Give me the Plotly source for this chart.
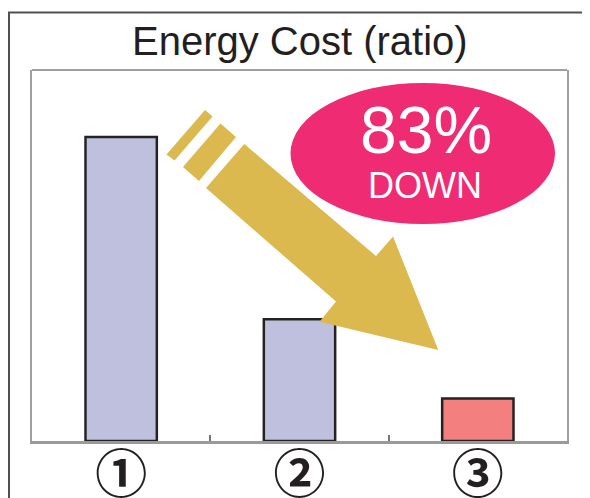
import plotly.graph_objects as go

# ---- data ----
categories = ["①", "②", "③"]
values = [100, 40, 14]
bar_colors = ["#bfc0de", "#bfc0de", "#f47f7f"]
title_text = "Energy Cost (ratio)"
badge_big = "83%"
badge_small = "DOWN"

W, H = 590, 498
# target plot area in the final picture (pixels)
TL, TR, TT, TB = 32, 567, 70, 441
# page offset (default body margin of the page)
OX, OY = 8, 8
L = TL - OX
R = W - (TR - OX)
T = TT - OY
B = H - (TB - OY)
PW, PH = TR - TL, TB - TT


def px(x, y):
    """picture pixel position -> paper coordinates (decoration only)"""
    return (x - TL) / PW, (TB - y) / PH


def path(points, close=True):
    pts = [px(x, y) for x, y in points]
    return "M " + " L ".join(f"{a:.4f},{b:.4f}" for a, b in pts) + (" Z" if close else "")


fig = go.Figure()
fig.add_trace(go.Bar(
    x=categories, y=values, width=0.4,
    marker=dict(color=bar_colors, line=dict(color="#262223", width=2.5)),
    hoverinfo="skip",
))

yellow = "#dcb94f"
shapes = []
shapes.append(dict(type="path", xref="paper", yref="paper", layer="above",
                   path=path([(205, 110), (212.5, 116.5), (174.5, 160.5), (166.5, 154.5)]),
                   fillcolor=yellow, line=dict(width=0)))
shapes.append(dict(type="path", xref="paper", yref="paper", layer="above",
                   path=path([(220.5, 123.5), (236, 137), (199, 181), (183, 167)]),
                   fillcolor=yellow, line=dict(width=0)))
shapes.append(dict(type="path", xref="paper", yref="paper", layer="above",
                   path=path([(244.3, 144), (376, 256), (393, 236.5), (438.3, 350),
                              (319.5, 321.7), (336, 301.5), (206, 188)]),
                   fillcolor=yellow, line=dict(width=0)))
x0, y0 = px(290.5, 224)
x1, y1 = px(555, 83)
shapes.append(dict(type="circle", xref="paper", yref="paper", layer="above",
                   x0=x0, y0=y0, x1=x1, y1=y1, fillcolor="#ee2b73", line=dict(width=0)))
a0, b0 = px(32, 70)
a1, b1 = px(567, 70)
shapes.append(dict(type="line", xref="paper", yref="paper", x0=a0, y0=b0, x1=a1, y1=b1,
                   line=dict(color="#a0a0a0", width=2)))
shapes.append(dict(type="path", xref="paper", yref="paper", layer="above",
                   path=path([(9, 520), (9, 12.5), (620, 12.5)], close=False),
                   line=dict(color="#505050", width=2)))

ax, ay = px(426, 130)
bx, by = px(425, 185)
tx, ty = px(300, 41)
common = dict(xref="paper", yref="paper", showarrow=False, xanchor="center", yanchor="middle")
annotations = [
    dict(text=badge_big, x=ax, y=ay,
         font=dict(family="Liberation Sans, Arial, sans-serif", size=66, color="white"), **common),
    dict(text=badge_small, x=bx, y=by,
         font=dict(family="Liberation Sans, Arial, sans-serif", size=36, color="white"), **common),
    dict(text=title_text, x=tx, y=ty,
         font=dict(family="Liberation Sans, Arial, sans-serif", size=40, color="#231f20"), **common),
]

fig.update_layout(
    width=W, height=H,
    margin=dict(l=L, r=R, t=T, b=B, pad=0, autoexpand=False),
    paper_bgcolor="white", plot_bgcolor="white",
    showlegend=False,
    shapes=shapes, annotations=annotations,
    xaxis=dict(range=[-0.5, 2.5], type="category", showline=True, linecolor="#9a9a9a",
               linewidth=3, ticks="inside", tickson="boundaries", ticklen=6,
               tickcolor="#777777", tickwidth=1.5, showgrid=False, zeroline=False,
               automargin=False,
               tickfont=dict(family="Noto Sans CJK JP, DejaVu Sans, sans-serif",
                             size=52, color="#231f20", weight="bold"),
               ticklabelstandoff=-13),
    yaxis=dict(range=[0, 122], showline=True, mirror=True, linecolor="#a0a0a0",
               linewidth=2, showticklabels=False, ticks="", showgrid=False,
               zeroline=False, automargin=False),
)

fig.write_html("out.html")
